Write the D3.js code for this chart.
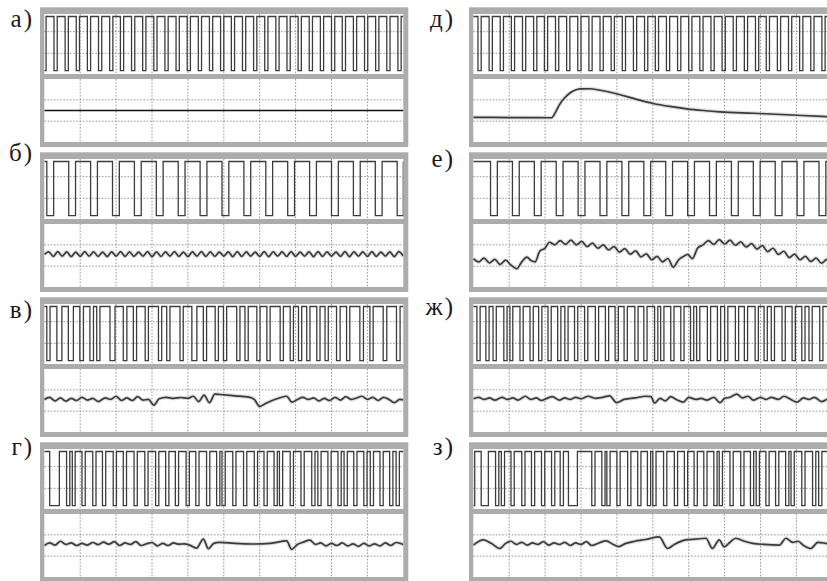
<!DOCTYPE html>
<html><head><meta charset="utf-8">
<script src="https://cdn.jsdelivr.net/npm/d3@7"></script>
<style>body{margin:0;background:#fff}svg{display:block}
.lab{font-family:'Liberation Serif','DejaVu Serif',serif;font-size:25px;fill:#1a1a1a;letter-spacing:2px}</style>
</head><body>
<svg id="c" width="827" height="581"></svg>
<script>
// ---------- data ----------
const labels = ["а)", "б)", "в)", "г)", "д)", "е)", "ж)", "з)"];
// PWM trace levels (upper screen, divisions): [low, high]
const pwmLevels = [0.2, 2.7];
// horizontal axis: 10 divisions per screen
const timeDomain = [0, 10];

// low intervals [start, end] of each PWM signal, in divisions
const lowsA = [[0,0.05],[0.27,0.36],[0.58,0.67],[0.89,0.98],[1.20,1.29],[1.51,1.60],[1.82,1.91],[2.12,2.21],[2.43,2.52],[2.74,2.83],[3.05,3.14],[3.36,3.45],[3.67,3.76],[3.98,4.07],[4.29,4.38],[4.60,4.69],[4.91,5.00],[5.21,5.30],[5.52,5.61],[5.83,5.92],[6.14,6.23],[6.45,6.54],[6.76,6.85],[7.07,7.16],[7.38,7.47],[7.69,7.78],[8.00,8.09],[8.30,8.39],[8.61,8.70],[8.92,9.01],[9.23,9.32],[9.54,9.63],[9.85,9.94]];
const lowsB = [[0.07,0.26],[0.68,0.87],[1.29,1.48],[1.90,2.09],[2.51,2.70],[3.12,3.31],[3.73,3.92],[4.34,4.53],[4.95,5.14],[5.56,5.75],[6.17,6.36],[6.78,6.97],[7.39,7.58],[8.00,8.19],[8.61,8.80],[9.22,9.41],[9.83,10.0]];
const lowsV = [[0.07,0.16],[0.35,0.49],[0.67,0.81],[0.99,1.09],[1.27,1.37],[1.46,1.55],[1.83,1.97],[2.20,2.30],[2.48,2.57],[2.81,2.90],[3.18,3.27],[3.41,3.50],[3.78,3.87],[4.11,4.25],[4.43,4.52],[4.76,4.85],[4.99,5.08],[5.36,5.45],[5.59,5.68],[5.92,6.01],[6.20,6.29],[6.57,6.66],[6.85,6.94],[7.08,7.17],[7.31,7.40],[7.59,7.68],[7.82,7.91],[8.14,8.24],[8.42,8.51],[8.79,8.89],[9.07,9.16],[9.44,9.54],[9.81,9.91]];
const lowsG = [[0.15,0.42],[0.62,0.71],[0.78,0.86],[1.05,1.14],[1.35,1.44],[1.62,1.71],[1.92,2.01],[2.20,2.29],[2.50,2.59],[2.80,2.89],[3.10,3.19],[3.38,3.47],[3.65,3.74],[3.95,4.04],[4.22,4.31],[4.52,4.61],[4.80,4.89],[4.95,5.04],[5.25,5.34],[5.55,5.64],[5.85,5.94],[6.12,6.21],[6.40,6.49],[6.55,6.64],[6.85,6.94],[7.15,7.24],[7.45,7.54],[7.62,7.71],[7.90,7.99],[8.18,8.27],[8.35,8.44],[8.62,8.71],[8.90,8.99],[9.08,9.17],[9.35,9.44],[9.62,9.71],[9.80,9.89]];
const lowsD = [[0.13,0.22],[0.44,0.53],[0.75,0.84],[1.06,1.15],[1.37,1.46],[1.68,1.77],[1.98,2.07],[2.29,2.38],[2.60,2.69],[2.91,3.00],[3.22,3.31],[3.53,3.62],[3.84,3.93],[4.15,4.24],[4.46,4.55],[4.77,4.86],[5.07,5.16],[5.38,5.47],[5.69,5.78],[6.00,6.09],[6.31,6.40],[6.62,6.71],[6.93,7.02],[7.24,7.33],[7.55,7.64],[7.86,7.95],[8.16,8.25],[8.47,8.56],[8.78,8.87],[9.09,9.18],[9.40,9.49],[9.71,9.80]];
const lowsE = [[0.48,0.67],[1.09,1.28],[1.70,1.89],[2.31,2.50],[2.92,3.11],[3.53,3.72],[4.14,4.33],[4.75,4.94],[5.36,5.55],[5.97,6.16],[6.58,6.77],[7.19,7.38],[7.80,7.99],[8.41,8.60],[9.02,9.21],[9.63,9.82]];
const lowsZh = [[0.10,0.19],[0.35,0.44],[0.55,0.64],[0.85,0.94],[1.02,1.10],[1.30,1.39],[1.58,1.67],[1.82,1.91],[2.08,2.17],[2.35,2.44],[2.55,2.64],[2.82,2.91],[3.10,3.19],[3.40,3.49],[3.68,3.77],[3.95,4.04],[4.20,4.29],[4.50,4.59],[4.75,4.84],[5.05,5.14],[5.22,5.31],[5.50,5.59],[5.78,5.87],[6.05,6.14],[6.22,6.31],[6.52,6.61],[6.80,6.89],[7.00,7.09],[7.30,7.39],[7.55,7.64],[7.85,7.94],[8.10,8.19],[8.30,8.39],[8.60,8.69],[8.88,8.97],[9.15,9.24],[9.35,9.44],[9.65,9.74]];
const lowsZ = [[0,0.04],[0.22,0.42],[0.62,0.71],[0.78,0.87],[1.05,1.14],[1.35,1.44],[1.62,1.71],[1.90,1.99],[2.18,2.27],[2.42,2.51],[2.65,2.90],[3.30,3.39],[3.58,3.67],[3.72,3.81],[4.00,4.09],[4.30,4.39],[4.58,4.67],[4.85,4.94],[5.00,5.09],[5.30,5.39],[5.60,5.69],[5.88,5.97],[6.15,6.24],[6.42,6.51],[6.70,6.79],[6.85,6.94],[7.15,7.24],[7.45,7.54],[7.72,7.81],[7.88,7.97],[8.15,8.24],[8.42,8.51],[8.70,8.79],[8.85,8.94],[9.15,9.24],[9.45,9.54],[9.62,9.71]];

// output signals [time, value] in divisions (lower screen, 0 = centre)
const outA = [[0,0],[10,0]];
const outB = [[0,0.05],[0.125,0.17],[0.25,-0.04],[0.375,0.18],[0.5,-0.03],[0.625,0.17],[0.75,-0.05],[0.875,0.16],[1,-0.04],[1.125,0.18],[1.25,-0.03],[1.375,0.17],[1.5,-0.04],[1.625,0.16],[1.75,-0.05],[1.875,0.17],[2,-0.03],[2.125,0.18],[2.25,-0.04],[2.375,0.17],[2.5,-0.04],[2.625,0.16],[2.75,-0.03],[2.875,0.18],[3,-0.05],[3.125,0.17],[3.25,-0.04],[3.375,0.17],[3.5,-0.03],[3.625,0.18],[3.75,-0.04],[3.875,0.16],[4,-0.05],[4.125,0.17],[4.25,-0.03],[4.375,0.18],[4.5,-0.04],[4.625,0.17],[4.75,-0.04],[4.875,0.16],[5,-0.03],[5.125,0.17],[5.25,-0.05],[5.375,0.18],[5.5,-0.04],[5.625,0.17],[5.75,-0.03],[5.875,0.16],[6,-0.04],[6.125,0.18],[6.25,-0.05],[6.375,0.17],[6.5,-0.03],[6.625,0.17],[6.75,-0.04],[6.875,0.18],[7,-0.04],[7.125,0.16],[7.25,-0.03],[7.375,0.17],[7.5,-0.05],[7.625,0.18],[7.75,-0.04],[7.875,0.17],[8,-0.03],[8.125,0.16],[8.25,-0.04],[8.375,0.18],[8.5,-0.05],[8.625,0.17],[8.75,-0.03],[8.875,0.17],[9,-0.04],[9.125,0.18],[9.25,-0.04],[9.375,0.16],[9.5,-0.03],[9.625,0.17],[9.75,-0.05],[9.875,0.18],[10,-0.03]];
const outV = [[0,0.05],[0.15,0.15],[0.3,-0.02],[0.45,0.12],[0.6,-0.03],[0.75,0.1],[0.9,0.0],[1.05,0.15],[1.2,0.02],[1.35,0.1],[1.5,-0.05],[1.7,0.12],[1.85,0.05],[2.0,0.2],[2.15,0.0],[2.3,0.12],[2.45,0.0],[2.6,0.18],[2.75,0.02],[2.9,0.05],[3.05,-0.22],[3.2,0.08],[3.4,0.15],[3.6,0.1],[3.8,0.14],[4.0,0.1],[4.15,0.2],[4.3,-0.05],[4.45,0.25],[4.6,-0.1],[4.75,0.3],[4.9,0.28],[5.3,0.22],[5.7,0.16],[5.85,0.05],[6.0,-0.28],[6.15,-0.15],[6.35,0.0],[6.55,0.12],[6.75,0.2],[6.9,-0.08],[7.05,0.05],[7.2,0.15],[7.35,0.05],[7.5,0.12],[7.65,-0.02],[7.8,0.1],[7.95,0.0],[8.1,0.15],[8.25,0.02],[8.4,0.18],[8.55,0.05],[8.7,0.12],[8.85,0.2],[9.0,0.05],[9.15,0.15],[9.3,0.0],[9.45,0.15],[9.6,0.05],[9.75,-0.1],[9.9,0.05],[10,0.03]];
const outG = [[0,0.0],[0.15,0.12],[0.3,0.02],[0.45,0.2],[0.6,0.05],[0.75,0.12],[0.9,0.0],[1.05,0.1],[1.2,0.02],[1.35,0.14],[1.5,0.04],[1.65,0.16],[1.8,0.06],[1.95,0.18],[2.1,0.0],[2.25,0.12],[2.4,0.05],[2.55,0.18],[2.7,0.0],[2.85,0.08],[3.0,0.14],[3.15,-0.02],[3.3,0.1],[3.45,0.0],[3.6,0.12],[3.75,0.06],[3.9,0.08],[4.05,0.02],[4.24,-0.12],[4.43,0.3],[4.57,-0.15],[4.72,0.1],[4.89,0.15],[5.3,0.1],[5.8,0.07],[6.3,0.1],[6.75,0.22],[6.89,-0.18],[7.05,0.05],[7.2,0.15],[7.4,0.25],[7.55,0.05],[7.7,0.12],[7.85,-0.02],[8.0,0.1],[8.15,0.0],[8.3,0.12],[8.45,-0.02],[8.6,0.08],[8.75,-0.04],[8.9,0.1],[9.05,-0.02],[9.2,0.08],[9.35,-0.02],[9.5,0.12],[9.65,0.0],[9.8,0.14],[10,0.05]];
const outD = [[0,-0.32],[1,-0.33],[2.18,-0.34],[2.3,-0.05],[2.41,0.3],[2.55,0.6],[2.69,0.82],[2.83,0.95],[2.97,1.01],[3.25,1.02],[3.53,0.95],[4.09,0.74],[4.55,0.52],[5.01,0.33],[5.48,0.19],[5.94,0.08],[6.41,0.0],[6.87,-0.06],[7.8,-0.13],[8.73,-0.2],[9.85,-0.29],[10,-0.3]];
const outE = [[0,-0.15],[0.15,-0.3],[0.3,-0.12],[0.45,-0.35],[0.6,-0.18],[0.75,-0.42],[0.9,-0.22],[1.05,-0.45],[1.21,-0.62],[1.35,-0.3],[1.49,-0.08],[1.62,-0.25],[1.72,-0.3],[1.85,0.2],[2.0,0.35],[2.12,0.62],[2.27,0.5],[2.42,0.7],[2.57,0.52],[2.72,0.72],[2.87,0.5],[3.02,0.66],[3.17,0.42],[3.32,0.58],[3.47,0.34],[3.62,0.5],[3.77,0.26],[3.92,0.42],[4.07,0.16],[4.22,0.32],[4.37,0.06],[4.52,0.22],[4.67,-0.06],[4.82,0.08],[4.97,-0.2],[5.12,-0.04],[5.27,-0.3],[5.42,-0.14],[5.57,-0.55],[5.72,-0.2],[5.85,-0.05],[5.97,0.05],[6.1,-0.15],[6.25,0.35],[6.4,0.5],[6.55,0.7],[6.7,0.52],[6.85,0.74],[7.0,0.54],[7.15,0.72],[7.3,0.48],[7.45,0.64],[7.6,0.4],[7.75,0.56],[7.9,0.3],[8.05,0.46],[8.2,0.18],[8.35,0.34],[8.5,0.05],[8.65,0.2],[8.8,-0.1],[8.95,0.06],[9.1,-0.2],[9.25,-0.04],[9.4,-0.28],[9.55,-0.12],[9.7,-0.36],[9.85,-0.18],[10,-0.35]];
const outZh = [[0,0.08],[0.15,0.15],[0.3,0.05],[0.45,0.12],[0.6,0.02],[0.8,0.15],[0.95,0.05],[1.1,0.12],[1.25,0.02],[1.45,0.2],[1.6,0.05],[1.75,0.12],[1.9,0.0],[2.05,0.1],[2.2,0.18],[2.4,0.02],[2.55,0.12],[2.7,0.05],[2.85,0.15],[3.0,0.08],[3.2,0.2],[3.4,0.1],[3.6,0.15],[3.8,0.22],[3.99,-0.1],[4.2,0.05],[4.5,0.12],[4.8,0.2],[4.95,0.18],[5.05,-0.12],[5.2,0.1],[5.35,-0.02],[5.5,0.18],[5.65,0.05],[5.85,-0.08],[6.0,0.15],[6.2,0.05],[6.35,0.1],[6.5,0.02],[6.7,0.15],[6.87,-0.1],[7.0,0.1],[7.15,0.15],[7.34,0.3],[7.5,0.12],[7.65,0.2],[7.8,0.02],[8.0,0.15],[8.15,0.05],[8.3,0.15],[8.5,0.05],[8.65,0.2],[8.85,0.05],[9.01,-0.08],[9.2,0.12],[9.35,0.05],[9.5,0.15],[9.7,-0.05],[9.85,0.05],[10,0.1]];
const outZ = [[0,0.02],[0.28,0.26],[0.5,0.1],[0.74,-0.14],[0.9,0.1],[1.05,0.2],[1.2,0.05],[1.35,0.15],[1.5,0.02],[1.65,0.12],[1.8,0.05],[1.95,0.18],[2.1,0.02],[2.25,0.12],[2.4,0.05],[2.55,0.15],[2.7,0.0],[2.85,0.12],[3.0,0.05],[3.15,0.18],[3.3,0.0],[3.5,0.12],[3.7,0.22],[3.9,0.05],[4.05,-0.05],[4.25,0.1],[4.5,0.2],[4.8,0.28],[5.18,0.4],[5.41,-0.14],[5.6,0.05],[5.92,0.26],[6.2,0.3],[6.48,0.34],[6.66,-0.14],[6.85,0.26],[6.99,-0.06],[7.15,0.15],[7.31,0.34],[7.55,0.2],[7.78,0.1],[8.1,0.05],[8.52,0.02],[8.71,0.34],[8.9,0.15],[9.05,0.2],[9.2,0.0],[9.4,-0.14],[9.6,0.15],[9.82,0.1],[10,0.05]];

const panelLows = [lowsA, lowsB, lowsV, lowsG, lowsD, lowsE, lowsZh, lowsZ];
const panelOuts = [outA, outB, outV, outG, outD, outE, outZh, outZ];

// ---------- layout ----------
const colX = [0, 429], rowY = [0, 145, 290, 435];
const labelBase = [27, 16, 28, 20, 27, 22, 25, 20];
const x = d3.scaleLinear().domain(timeDomain).range([44.3, 403.3]);
const yU = d3.scaleLinear().domain([0, 3]).range([75, 10]);
const yL = d3.scaleLinear().domain([-1.5, 1.5]).range([142.5, 78.5]);
const svg = d3.select("#c");
const pwmLine = d3.line().x(d => x(d[0])).y(d => yU(d[1]));
const outLine = d3.line().x(d => x(d[0])).y(d => yL(d[1])).curve(d3.curveMonotoneX);

function pwmPoints(lows) {
  const [lo, hi] = pwmLevels;
  const pts = [[0, lows[0][0] <= 0 ? lo : hi]];
  lows.forEach(([s, e]) => {
    if (s > 0) pts.push([s, hi]);
    pts.push([s, lo], [e, lo], [e, hi]);
  });
  pts.push([10, hi]);
  return pts;
}

labels.forEach((lab, i) => {
  const col = Math.floor(i / 4), row = i % 4;
  const g = svg.append("g").attr("transform", `translate(${colX[col]},${rowY[row]})`);
  g.append("rect").attr("x", 40).attr("y", 7.3).attr("width", 368.3).attr("height", 139.7).attr("fill", "#acacac");
  const screens = [[14, 60], [79, 63]];
  screens.forEach(([y0, h], k) => {
    g.append("rect").attr("x", x(0)).attr("y", y0).attr("width", x(10) - x(0)).attr("height", h).attr("fill", "#fff");
    g.append("clipPath").attr("id", `clip${i}_${k}`).append("rect")
      .attr("x", x(0)).attr("y", y0).attr("width", x(10) - x(0)).attr("height", h);
  });
  // grid
  const grid = g.append("g").attr("stroke", "#8c8c8c").attr("stroke-width", 0.9).attr("stroke-dasharray", "1.6,1.6").attr("fill", "none");
  d3.range(1, 10).forEach(t => {
    grid.append("line").attr("x1", x(t)).attr("x2", x(t)).attr("y1", 14).attr("y2", 74);
    grid.append("line").attr("x1", x(t)).attr("x2", x(t)).attr("y1", 79).attr("y2", 142);
  });
  [1, 2].forEach(v => grid.append("line").attr("x1", x(0)).attr("x2", x(10)).attr("y1", yU(v)).attr("y2", yU(v)));
  [-0.5, 0.5].forEach(v => grid.append("line").attr("x1", x(0)).attr("x2", x(10)).attr("y1", yL(v)).attr("y2", yL(v)));
  // PWM trace
  g.append("path").attr("clip-path", `url(#clip${i}_0)`).attr("d", pwmLine(pwmPoints(panelLows[i])))
    .attr("fill", "none").attr("stroke", "#3c3c3c").attr("stroke-width", 1.3);
  // output trace
  const lo = g.append("g").attr("clip-path", `url(#clip${i}_1)`);
  if (i !== 0) {
    lo.append("path").attr("d", outLine(panelOuts[i])).attr("fill", "none")
      .attr("stroke", "#c8c8c8").attr("stroke-width", 4).attr("stroke-opacity", 0.6);
  }
  lo.append("path").attr("d", outLine(panelOuts[i])).attr("fill", "none")
    .attr("stroke", i === 0 ? "#111" : "#3a3a3a").attr("stroke-width", i === 0 ? 1.3 : 1.7);
  // label
  g.append("text").attr("class", "lab").attr("x", col === 0 ? 34 : 455 - colX[1]).attr("y", labelBase[i])
    .attr("text-anchor", "end").text(lab);
});
</script>
</body></html>
